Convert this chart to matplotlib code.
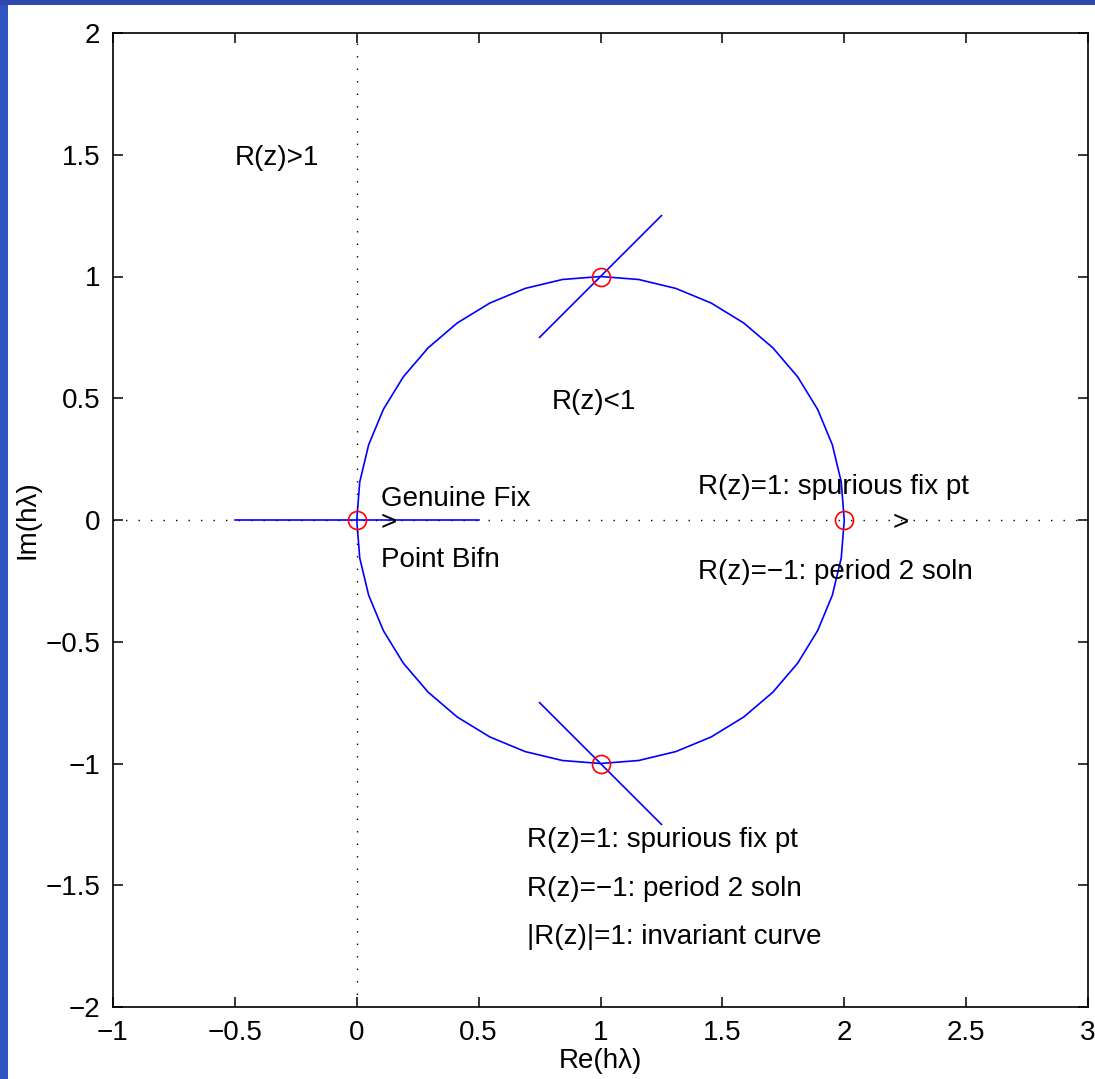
import matplotlib.pyplot as plt
from matplotlib.patches import CirclePolygon, Rectangle

plt.rcParams["font.family"] = ["Liberation Sans", "DejaVu Sans"]
plt.rcParams["axes.unicode_minus"] = True

# stability boundary |R(z)|=1 for the method: circle centred at 1 with radius 1
circle_center = (1.0, 0.0)
circle_radius = 1.0
circle_segments = 40

# short blue segments through the bifurcation points
seg_fix_x = [-0.5, 0.5]
seg_fix_y = [0.0, 0.0]
seg_up_x = [0.75, 1.25]
seg_up_y = [0.75, 1.25]
seg_down_x = [0.75, 1.25]
seg_down_y = [-0.75, -1.25]

# bifurcation points (red circles)
bif_x = [0, 1, 1, 2]
bif_y = [0, 1, -1, 0]

# annotations: (x, y, text)
labels = [
    (-0.5, 1.5, "R(z)>1"),
    (0.8, 0.5, "R(z)<1"),
    (0.1, 0.1, "Genuine Fix"),
    (0.1, 0.0, ">"),
    (0.1, -0.15, "Point Bifn"),
    (1.4, 0.15, "R(z)=1: spurious fix pt"),
    (2.2, 0.0, ">"),
    (1.4, -0.2, "R(z)=\u22121: period 2 soln"),
    (0.7, -1.3, "R(z)=1: spurious fix pt"),
    (0.7, -1.5, "R(z)=\u22121: period 2 soln"),
    (0.7, -1.7, "|R(z)|=1: invariant curve"),
]

xticks = [-1, -0.5, 0, 0.5, 1, 1.5, 2, 2.5, 3]
yticks = [-2, -1.5, -1, -0.5, 0, 0.5, 1, 1.5, 2]

fs = 20

fig = plt.figure(figsize=(10.95, 10.79), dpi=100)
fig.patch.set_facecolor("white")

# slide-style frame strips on the left and top
fig.patches.append(Rectangle((0, 0), 8 / 1095, 1, transform=fig.transFigure,
                             facecolor="#3053c2", edgecolor="none", zorder=0))
fig.patches.append(Rectangle((0, 1 - 5 / 1079), 1, 5 / 1079, transform=fig.transFigure,
                             facecolor="#2f47ad", edgecolor="none", zorder=0))

ax = fig.add_axes([113 / 1095, 72 / 1079, 975 / 1095, 974 / 1079])

ax.axhline(0, color="black", linestyle=(0, (1, 8)), linewidth=1.0)
ax.axvline(0, color="black", linestyle=(0, (1, 8)), linewidth=1.0)

ax.add_patch(CirclePolygon(circle_center, circle_radius, resolution=circle_segments,
                           fill=False, edgecolor="blue", linewidth=1.2))
ax.plot(seg_fix_x, seg_fix_y, color="blue", linewidth=1.2)
ax.plot(seg_up_x, seg_up_y, color="blue", linewidth=1.2)
ax.plot(seg_down_x, seg_down_y, color="blue", linewidth=1.2)
ax.plot(bif_x, bif_y, linestyle="none", marker="o", markersize=13,
        markerfacecolor="none", markeredgecolor="red", markeredgewidth=1.2)

# text is centred a touch lower, as MATLAB's 'middle' includes descenders
for x, y, s in labels:
    ax.annotate(s, (x, y), xytext=(0, -2.5), textcoords="offset points",
                fontsize=fs, ha="left", va="center")

ax.set_xlim(-1, 3)
ax.set_ylim(-2, 2)
ax.set_xticks(xticks)
ax.set_yticks(yticks)
ax.set_xticklabels([f"{t:g}".replace("-", "\u2212") for t in xticks])
ax.set_yticklabels([f"{t:g}".replace("-", "\u2212") for t in yticks])
ax.tick_params(direction="in", length=7, width=1.1, labelsize=fs,
               top=True, right=True, pad=9)
for sp in ax.spines.values():
    sp.set_linewidth(1.2)

ax.set_xlabel("Re(h\u03bb)", fontsize=fs, labelpad=2)
ax.set_ylabel("Im(h\u03bb)", fontsize=fs, labelpad=4)

fig.savefig("out.png", dpi=100, facecolor="white")
